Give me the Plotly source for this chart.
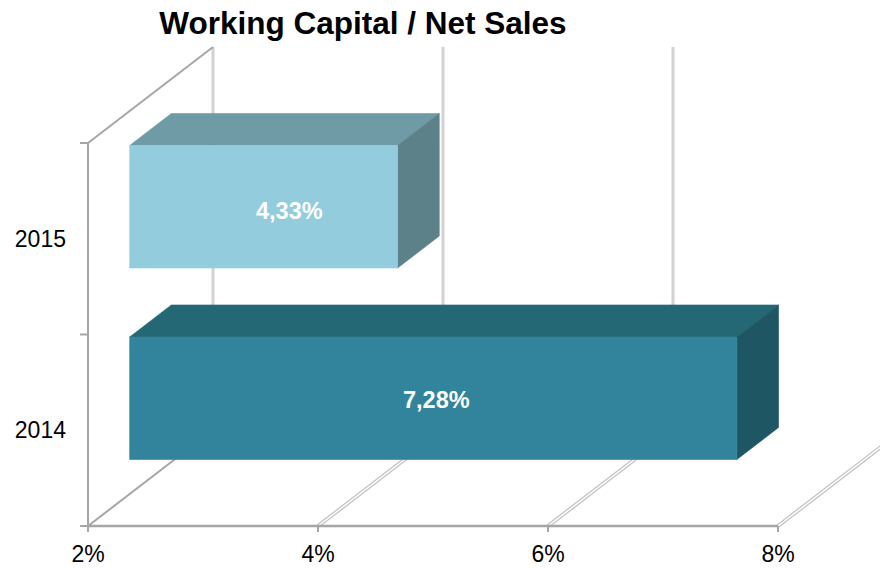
import plotly.graph_objects as go

# ---- data ----
categories = ["2014", "2015"]
values = [7.28, 4.33]
value_labels = ["7,28%", "4,33%"]
x_tick_vals = [2, 4, 6, 8]
x_tick_text = ["2%", "4%", "6%", "8%"]
title_text = "Working Capital / Net Sales"

# ---- styling / geometry ----
front_col = ["#31849B", "#93CDDD"]
top_col = ["#246876", "#6F9BA7"]
side_col = ["#1F5664", "#5C8189"]
label_xshift = [3, 26]
label_yshift = [-2, -4]

OFF = 8                    # page body margin of the browser
W, H = 888 - OFF, 568 - OFF
AX_X = 88 - OFF            # front-plane origin (figure pixels)
AX_Y = 526 - OFF

PX_X = 115.0     # pixels per 1 % on the front plane
PX_Y = 191.5     # pixels per category band
DX = 125.0 / PX_X   # depth vector (data units)
DY = 96.0 / PX_Y
D0, D1 = 1 / 3, 2 / 3   # bar depth span
HALF = 0.32            # half bar height (category units)
XMIN = x_tick_vals[0]
NCAT = len(categories)

L, R, T, B = 62, 0, 32, 32
x_range = [XMIN - (AX_X - L) / PX_X, XMIN + (W - R - AX_X) / PX_X]
y_range = [-(H - B - AX_Y) / PX_Y, (AX_Y - T) / PX_Y]

fig = go.Figure()


def seg(xs, ys, color, width):
    fig.add_trace(go.Scatter(x=xs, y=ys, mode="lines", line=dict(color=color, width=width),
                             hoverinfo="skip", showlegend=False))


def poly(xs, ys, color):
    fig.add_trace(go.Scatter(x=xs + [xs[0]], y=ys + [ys[0]], mode="lines", fill="toself",
                             fillcolor=color, line=dict(color=color, width=0.6),
                             hoverinfo="skip", showlegend=False))


# back wall gridlines
for v in x_tick_vals:
    seg([v + DX, v + DX], [DY, NCAT + DY], "#D2D2D2", 3)

# floor gridlines (double-line look)
for v in x_tick_vals[1:]:
    seg([v, v + DX], [0, DY], "#C4C4C4", 4)
    seg([v, v + DX], [0, DY], "#FFFFFF", 1.4)

# left wall edges
seg([XMIN, XMIN + DX], [0, DY], "#A6A6A6", 2)
seg([XMIN, XMIN + DX], [NCAT, NCAT + DY], "#A6A6A6", 2)
seg([XMIN, XMIN], [0, NCAT], "#A6A6A6", 2)
# front floor line
seg([XMIN, x_tick_vals[-1]], [0, 0], "#A6A6A6", 2.5)
# tick marks
for k in range(NCAT + 1):
    seg([XMIN - 8 / PX_X, XMIN], [k, k], "#A6A6A6", 2)
for v in x_tick_vals:
    seg([v, v], [0, -6 / PX_Y], "#A6A6A6", 2)

# bars
for i, (cat, v) in enumerate(zip(categories, values)):
    c = i + 0.5
    lo, hi = c - HALF, c + HALF
    fx0, fx1 = XMIN + D0 * DX, v + D0 * DX
    bx0, bx1 = XMIN + D1 * DX, v + D1 * DX
    fy, by = D0 * DY, D1 * DY
    # top
    poly([fx0, fx1, bx1, bx0], [hi + fy, hi + fy, hi + by, hi + by], top_col[i])
    # side
    poly([fx1, bx1, bx1, fx1], [lo + fy, lo + by, hi + by, hi + fy], side_col[i])
    # front
    poly([fx0, fx1, fx1, fx0], [lo + fy, lo + fy, hi + fy, hi + fy], front_col[i])
    fig.add_annotation(x=(fx0 + fx1) / 2, y=c + fy, text=value_labels[i], showarrow=False,
                       xshift=label_xshift[i], yshift=label_yshift[i],
                       font=dict(family="Liberation Sans, Arial", size=23.5, color="white", weight="bold"))

fig.update_layout(
    width=W, height=H,
    margin=dict(l=L, r=R, t=T, b=B, autoexpand=False),
    paper_bgcolor="white", plot_bgcolor="white",
    showlegend=False,
    title=dict(text="<b>" + title_text + "</b>", x=(363 - OFF) / W, xanchor="center", xref="container",
               y=1 - 15 / H, yanchor="middle", yref="container",
               font=dict(family="Liberation Sans, Arial", size=31.5, color="black")),
    xaxis=dict(range=x_range, tickvals=x_tick_vals, ticktext=x_tick_text, showgrid=False,
               zeroline=False, showline=False, ticks="", ticklabelstandoff=2,
               tickfont=dict(family="Liberation Sans, Arial", size=23, color="black"), fixedrange=True),
    yaxis=dict(range=y_range, tickvals=[i + 0.5 for i in range(NCAT)], ticktext=categories,
               showgrid=False, zeroline=False, showline=False, ticks="", ticklabelstandoff=3,
               tickfont=dict(family="Liberation Sans, Arial", size=23, color="black"), fixedrange=True),
)

fig.write_html("out.html")
